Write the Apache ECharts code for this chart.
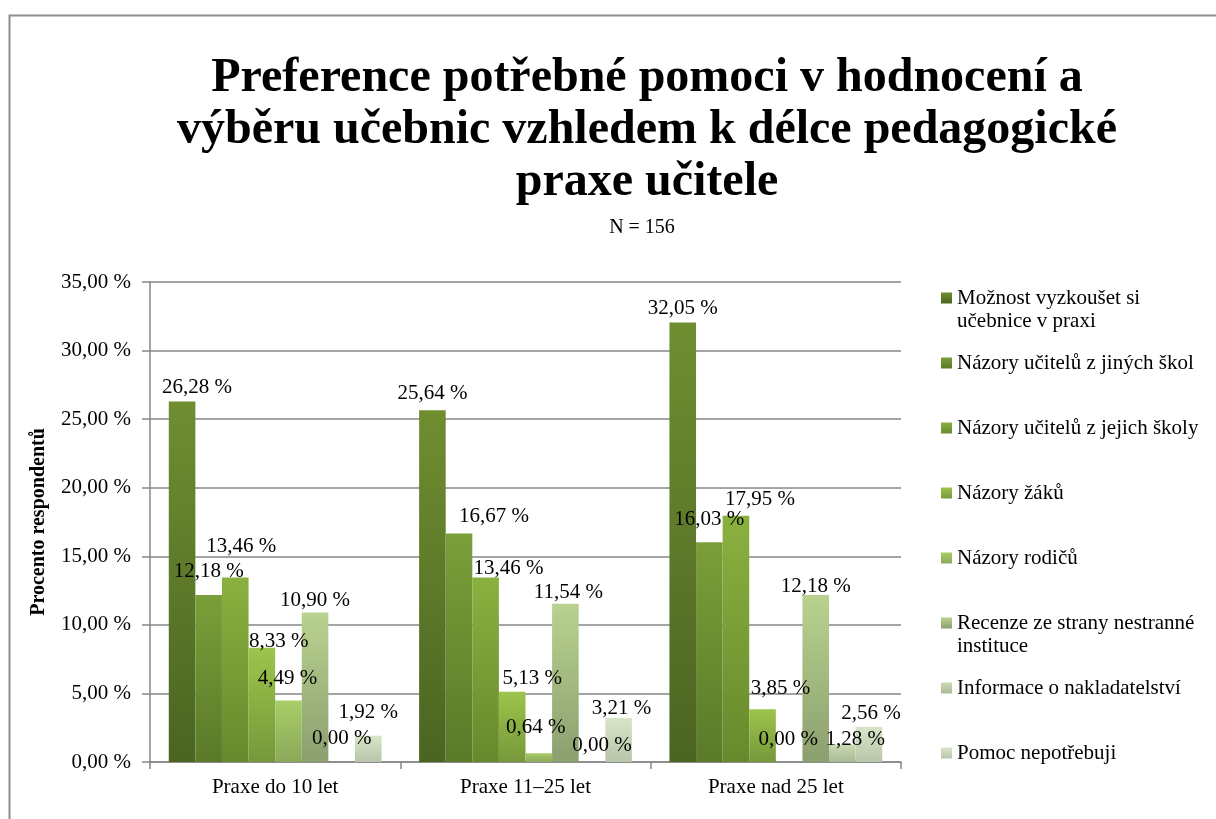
<!DOCTYPE html>
<html>
<head>
<meta charset="utf-8">
<script src="https://cdn.jsdelivr.net/npm/echarts@6/dist/echarts.min.js"></script>
<style>
  html, body { margin: 0; padding: 0; background: #fff; }
  #chart { width: 1216px; height: 819px; }
</style>
</head>
<body>
<div id="chart"></div>
<script>
// categories and series (values in %)
const categories = ['Praxe do 10 let', 'Praxe 11–25 let', 'Praxe nad 25 let']
const seriesNames = [
  'Možnost vyzkoušet si učebnice v praxi',
  'Názory učitelů z jiných škol',
  'Názory učitelů z jejich školy',
  'Názory žáků',
  'Názory rodičů',
  'Recenze ze strany nestranné instituce',
  'Informace o nakladatelství',
  'Pomoc nepotřebuji',
]
const moznostVyzkouset = [26.28, 25.64, 32.05]
const uciteleJinychSkol = [12.18, 16.67, 16.03]
const uciteleJejichSkoly = [13.46, 13.46, 17.95]
const nazoryZaku = [8.33, 5.13, 3.85]
const nazoryRodicu = [4.49, 0.64, 0.0]
const recenze = [10.9, 11.54, 12.18]
const informaceNakladatelstvi = [0.0, 0.0, 1.28]
const pomocNepotrebuji = [1.92, 3.21, 2.56]
const seriesValues = [
  moznostVyzkouset, uciteleJinychSkol, uciteleJejichSkoly, nazoryZaku,
  nazoryRodicu, recenze, informaceNakladatelstvi, pomocNepotrebuji,
]
const yTicks = [0, 5, 10, 15, 20, 25, 30, 35]

// gradient colours, top -> bottom
const barColors = [
  ['#6f8e31', '#4b6422'],
  ['#7a9f39', '#5a7a29'],
  ['#8ab13f', '#67892d'],
  ['#9dc44b', '#76983a'],
  ['#a9cd67', '#8aa95a'],
  ['#b9d28f', '#8b9f6f'],
  ['#cadcb3', '#a8b894'],
  ['#d8e5c8', '#b9c5aa'],
]
// data labels were moved by hand in the original, nudge them the same way
const labelNudge = [
  [[15, 2], [0, 0], [0, 3]],
  [[0, -7], [35, 0], [0, -6]],
  [[6, -14], [23, 8], [24, 0]],
  [[17, 10], [20, 3], [18, -4]],
  [[-1, -5], [-3, -9], [-1, -6]],
  [[0, 4], [3, 5], [0, 8]],
  [[0, -7], [10, 0], [13, 12]],
  [[0, -7], [3, 7], [2, 3]],
]
const legendBreaks = {
  'Možnost vyzkoušet si učebnice v praxi': '\nMožnost vyzkoušet si\nučebnice v praxi',
  'Recenze ze strany nestranné instituce': '\nRecenze ze strany nestranné\ninstituce',
}

const serif = '"Liberation Serif", "Times New Roman", serif'
const pct = (v) => v.toFixed(2).replace('.', ',') + ' %'
const axisGray = '#868686'
const legendLine = 23

const myChart = echarts.init(document.getElementById('chart'))

const series = seriesNames.map((name, i) => ({
  name: name,
  type: 'bar',
  barGap: 0,
  barCategoryGap: '15%',
  data: seriesValues[i].map((v, j) => ({
    value: v,
    label: { offset: labelNudge[i][j] },
  })),
  itemStyle: {
    color: new echarts.graphic.LinearGradient(0, 0, 0, 1, [
      { offset: 0, color: barColors[i][0] },
      { offset: 1, color: barColors[i][1] },
    ]),
  },
  label: {
    show: true,
    position: 'top',
    distance: 6,
    formatter: (p) => pct(p.value),
    fontFamily: serif,
    fontSize: 21,
    color: '#000',
  },
}))

// every legend entry is three lines tall so spacing is even;
// two-line names start with an empty line so the marker sits on the first text line
const legendData = seriesNames.map((n) => ({
  name: n,
  textStyle: {
    padding: legendBreaks[n] ? 0 : [legendLine, 0, legendLine, 0],
  },
}))

const option = {
  animation: false,
  backgroundColor: '#fff',
  graphic: [
    {
      type: 'rect',
      left: 7,
      top: 13,
      shape: { width: 1400, height: 1000 },
      style: { fill: 'none', stroke: '#8e8e8e', lineWidth: 2 },
      silent: true,
    },
  ],
  title: [
    {
      text: 'Preference potřebné pomoci v hodnocení a\nvýběru učebnic vzhledem k délce pedagogické\npraxe učitele',
      left: 642,
      top: 48,
      textAlign: 'center',
      textStyle: {
        fontFamily: serif,
        fontWeight: 'bold',
        fontSize: 48,
        lineHeight: 52,
        color: '#000',
      },
    },
    {
      text: 'N = 156',
      left: 637,
      top: 213,
      textAlign: 'center',
      textStyle: {
        fontFamily: serif,
        fontWeight: 'normal',
        fontSize: 20,
        color: '#000',
      },
    },
  ],
  legend: {
    orient: 'vertical',
    left: 941,
    top: 298 - legendLine * 1.5,
    padding: 0,
    itemWidth: 11,
    itemHeight: 11,
    itemGap: -4,
    icon: 'rect',
    data: legendData,
    formatter: (n) => legendBreaks[n] || n,
    textStyle: {
      fontFamily: serif,
      fontSize: 21,
      lineHeight: legendLine,
      color: '#000',
    },
  },
  grid: { left: 150, right: 315, top: 282, bottom: 57 },
  xAxis: {
    type: 'category',
    data: categories,
    axisLine: { lineStyle: { color: axisGray, width: 1.5 } },
    axisTick: { show: true, length: 7, lineStyle: { color: axisGray, width: 1.5 } },
    axisLabel: { margin: 15, fontFamily: serif, fontSize: 21, color: '#000' },
  },
  yAxis: {
    type: 'value',
    min: yTicks[0],
    max: yTicks[yTicks.length - 1],
    interval: yTicks[1] - yTicks[0],
    name: 'Procento respondentů',
    nameLocation: 'middle',
    nameGap: 101,
    nameTextStyle: { fontFamily: serif, fontWeight: 'bold', fontSize: 20, color: '#000' },
    axisLine: { show: true, lineStyle: { color: axisGray, width: 1.5 } },
    axisTick: { show: true, length: 8, lineStyle: { color: axisGray, width: 1.5 } },
    axisLabel: { margin: 19, fontFamily: serif, fontSize: 21, color: '#000', formatter: (v) => pct(v) },
    splitLine: { lineStyle: { color: axisGray, width: 1.5 } },
  },
  series: series,
}

myChart.setOption(option)
</script>
</body>
</html>
